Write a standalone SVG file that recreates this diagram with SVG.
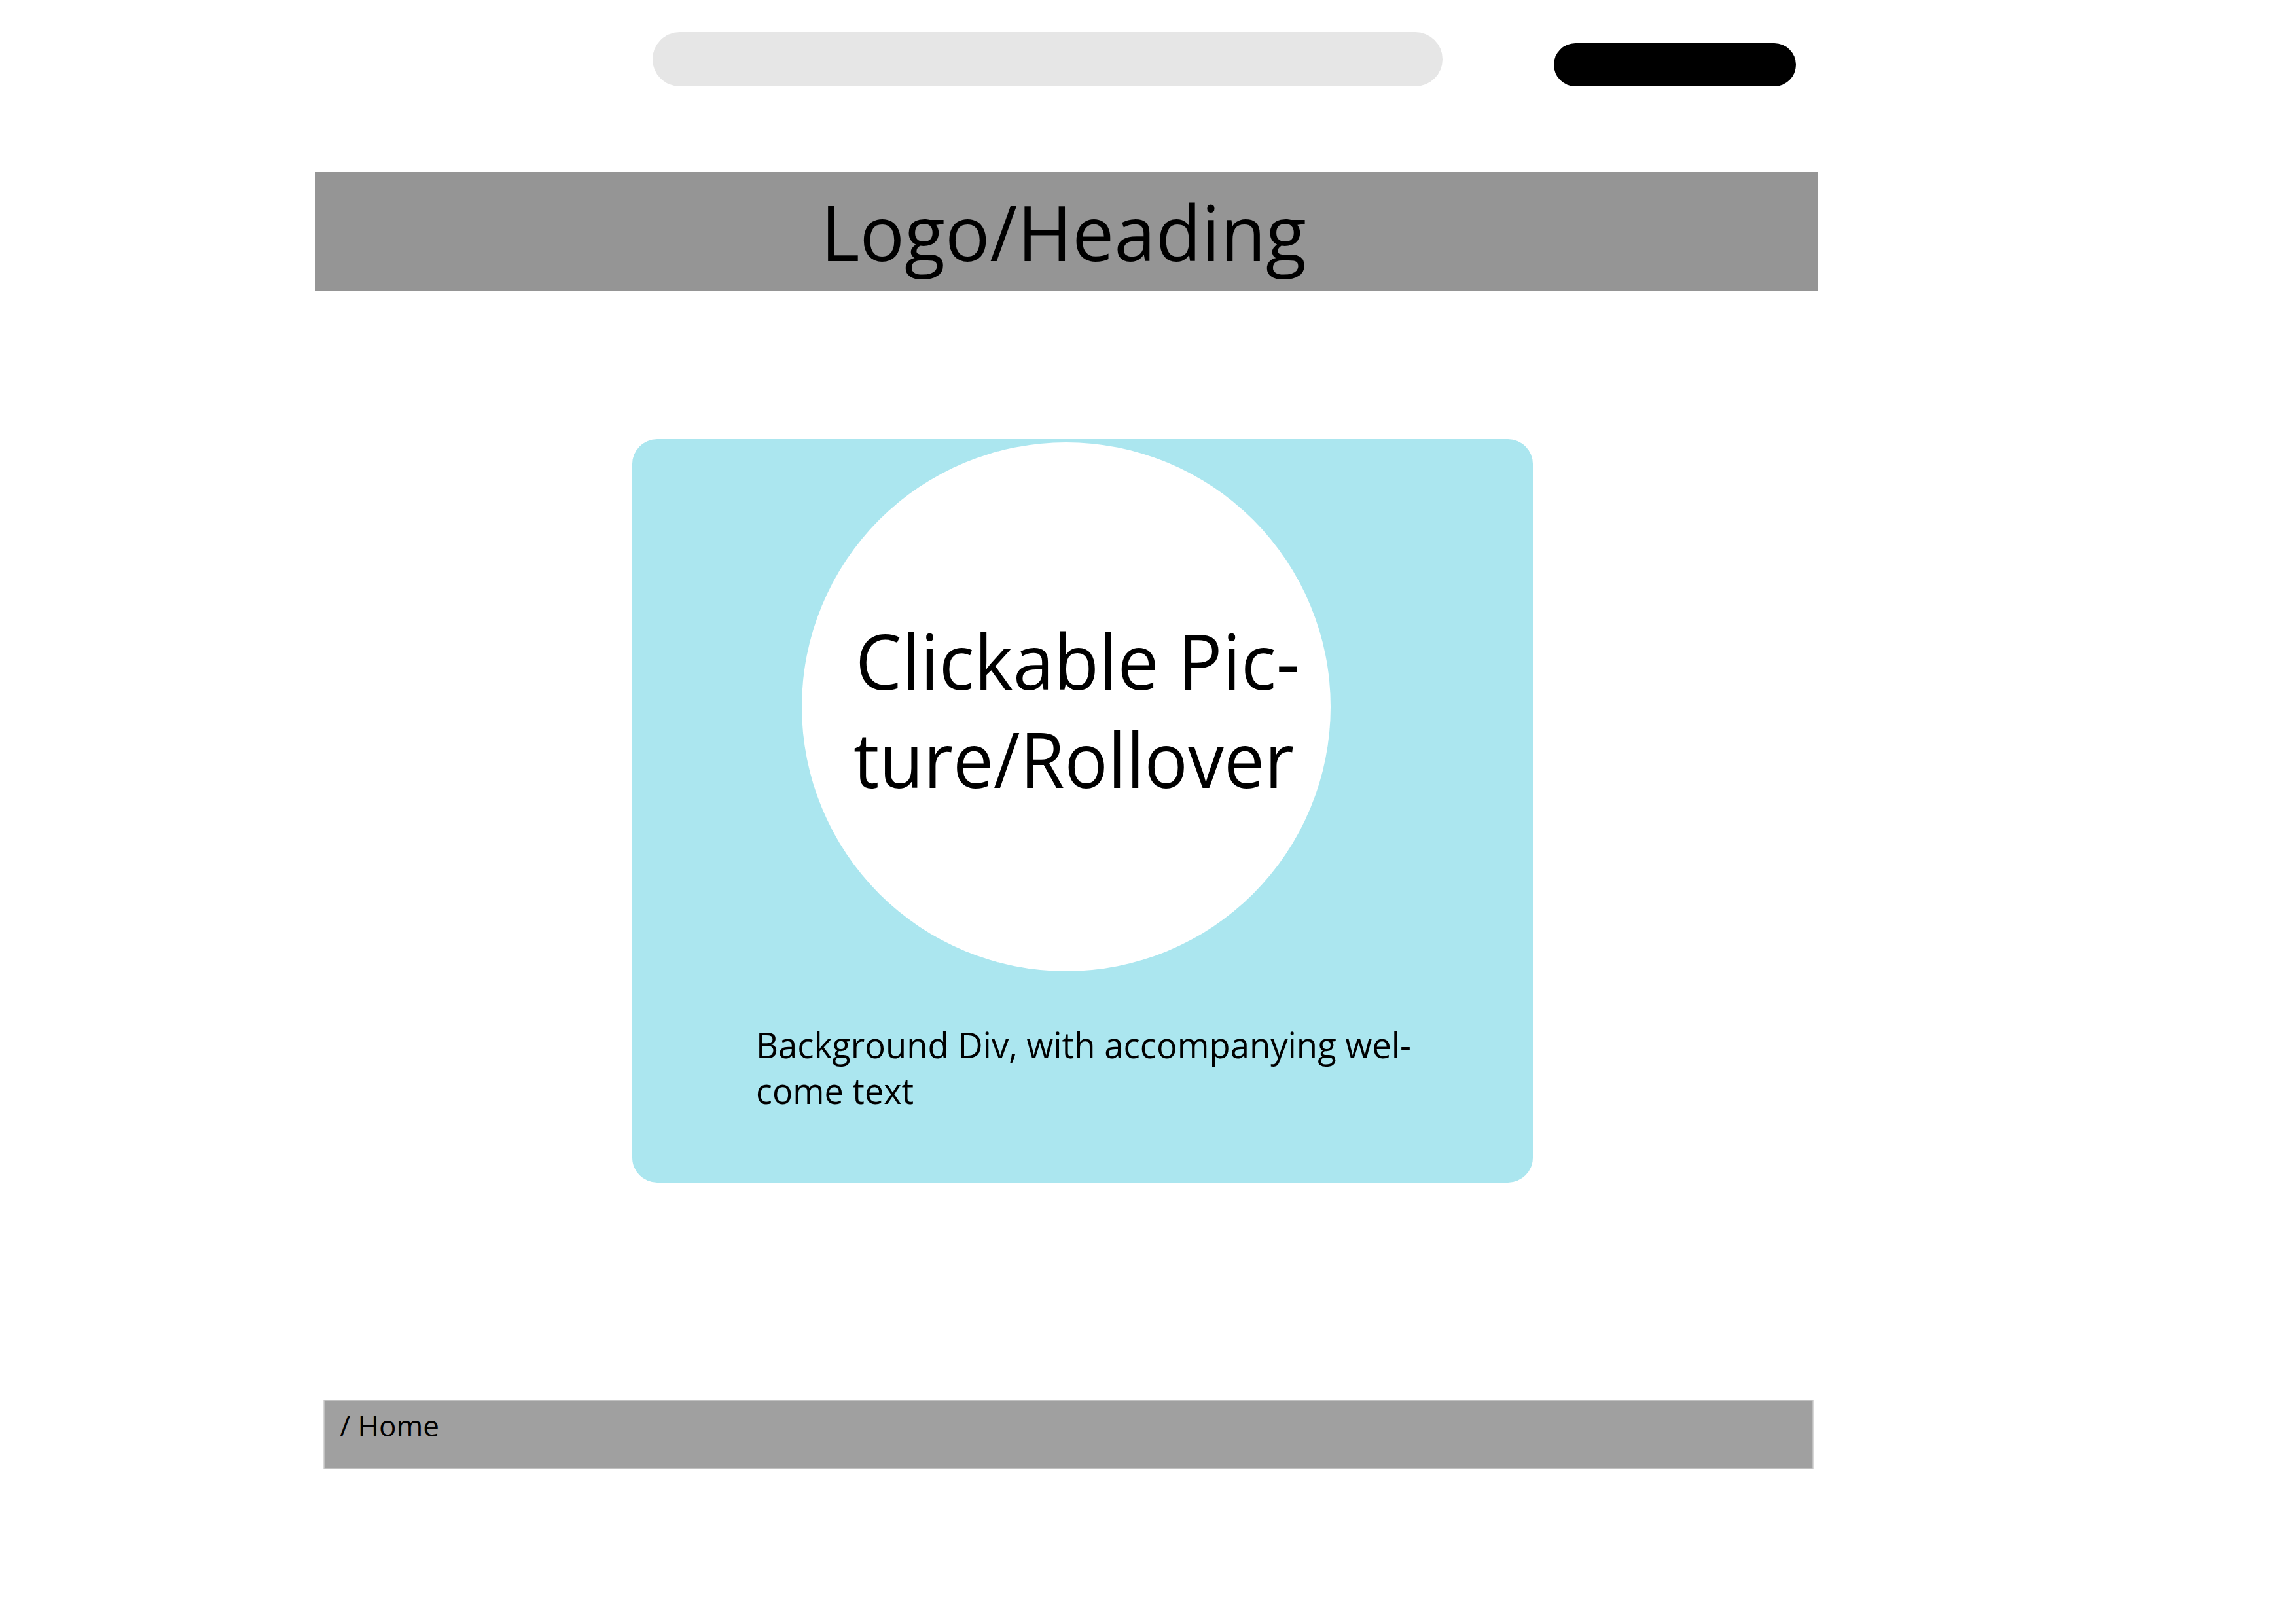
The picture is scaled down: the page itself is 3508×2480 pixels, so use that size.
<svg xmlns="http://www.w3.org/2000/svg" width="3508" height="2480" viewBox="0 0 3508 2480">
  <style>
    .lbl { font-family: "Open Sans", "Noto Sans", "Liberation Sans", sans-serif; fill: #000000; }
    .big { font-size: 118px; }
    .mid { font-size: 55px; }
    .small { font-size: 44px; }
  </style>
  <rect x="0" y="0" width="3508" height="2480" fill="#ffffff"/>

  <!-- search field -->
  <g id="search-bar">
    <rect x="997" y="49" width="1207" height="83" rx="41.5" ry="41.5" fill="#e6e6e6"/>
  </g>

  <!-- black button -->
  <g id="top-button">
    <rect x="2374" y="66" width="370" height="66" rx="33" ry="33" fill="#000000"/>
  </g>

  <!-- header band -->
  <g id="header">
    <rect x="482" y="263" width="2295" height="181" fill="#959595"/>
    <text class="lbl big" x="1254" y="399" textLength="742" lengthAdjust="spacingAndGlyphs">Logo/Heading</text>
  </g>

  <!-- welcome panel with picture -->
  <g id="welcome-panel">
    <rect x="966" y="671" width="1376" height="1136" rx="38" ry="38" fill="#abe6ef"/>
    <text class="lbl mid" x="1155" y="1617" textLength="1001" lengthAdjust="spacingAndGlyphs">Background Div, with accompanying wel-</text>
    <text class="lbl mid" x="1155" y="1687" textLength="241" lengthAdjust="spacingAndGlyphs">come text</text>
  </g>

  <g id="picture">
    <circle cx="1629" cy="1080" r="404" fill="#ffffff"/>
    <text class="lbl big" x="1307" y="1054" textLength="679" lengthAdjust="spacingAndGlyphs">Clickable Pic-</text>
    <text class="lbl big" x="1304" y="1204" textLength="673" lengthAdjust="spacingAndGlyphs">ture/Rollover</text>
  </g>

  <!-- footer breadcrumb -->
  <g id="footer">
    <rect x="495" y="2140" width="2275" height="104" fill="#a0a0a0" stroke="#cacaca" stroke-width="1.5"/>
    <text class="lbl small" x="519" y="2195" textLength="152" lengthAdjust="spacingAndGlyphs">/ Home</text>
  </g>

  <g id="connectors"/>
</svg>
